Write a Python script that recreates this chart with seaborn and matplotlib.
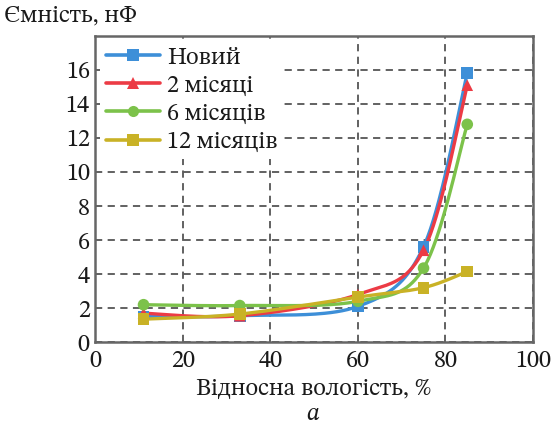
import numpy as np
import pandas as pd
import matplotlib
matplotlib.use("Agg")
import matplotlib.pyplot as plt
from matplotlib import font_manager
from matplotlib.font_manager import FontProperties
import seaborn as sns
from matplotlib.lines import Line2D

# ---- data ----
humidity = [11, 33, 60, 75, 85]
series_names = ["Новий", "2 місяці", "6 місяців", "12 місяців"]
new_vals = [1.5, 1.55, 2.1, 5.6, 15.8]
m2_vals = [1.7, 1.55, 2.8, 5.4, 15.1]
m6_vals = [2.2, 2.15, 2.4, 4.35, 12.8]
m12_vals = [1.35, 1.65, 2.65, 3.2, 4.15]
x_ticks = [0, 20, 40, 60, 80, 100]
y_ticks = [0, 2, 4, 6, 8, 10, 12, 14, 16]

colors = ["#3d8fd8", "#ec3b45", "#7cc24a", "#c9b226"]
markers = ["s", "^", "o", "s"]

sns.set_theme(style="white")
plt.rcParams["font.family"] = ["PT Serif", "DejaVu Serif"]
plt.rcParams["mathtext.fontset"] = "stix"

# preferred serif faces with Cyrillic, with the size that matches the reference
CANDIDATES = [("STIX Two Text", 17.5), ("PT Serif", 16.5), ("Noto Serif", 16.0)]


def find_fp(italic=False):
    for fam, size in CANDIDATES:
        try:
            path = font_manager.findfont(FontProperties(family=fam,
                                                        style="italic" if italic else "normal"),
                                         fallback_to_default=False)
            return FontProperties(fname=path, size=size)
        except Exception:
            continue
    return FontProperties(family="serif", style="italic" if italic else "normal", size=16.5)


fp = find_fp()
fp_it = find_fp(italic=True)


def smooth(xs, ys, n=40):
    # Excel-like smoothed line (Catmull-Rom style Bezier)
    xs = np.asarray(xs, float)
    ys = np.asarray(ys, float)
    P = np.column_stack([xs, ys])
    out = []
    for i in range(len(P) - 1):
        p0 = P[i - 1] if i > 0 else P[i]
        p1 = P[i]
        p2 = P[i + 1]
        p3 = P[i + 2] if i + 2 < len(P) else P[i + 1]
        c1 = p1 + (p2 - p0) / 6.0
        c2 = p2 - (p3 - p1) / 6.0
        t = np.linspace(0, 1, n)[:, None]
        seg = ((1 - t) ** 3) * p1 + 3 * ((1 - t) ** 2) * t * c1 + 3 * (1 - t) * t ** 2 * c2 + t ** 3 * p2
        out.append(seg if i == 0 else seg[1:])
    S = np.vstack(out)
    return S[:, 0], S[:, 1]


fig = plt.figure(figsize=(5.58, 4.32), dpi=100)
ax = fig.add_axes([0.171, 0.208, 0.784, 0.709])

all_vals = [new_vals, m2_vals, m6_vals, m12_vals]
for name, vals, c, m in zip(series_names, all_vals, colors, markers):
    sx, sy = smooth(humidity, vals)
    curve = pd.DataFrame({"x": sx, "y": sy})
    sns.lineplot(data=curve, x="x", y="y", ax=ax, color=c, lw=2.4, sort=False,
                 estimator=None, zorder=3)
    pts = pd.DataFrame({"x": humidity, "y": vals})
    sns.scatterplot(data=pts, x="x", y="y", ax=ax, color=c, marker=m, s=70,
                    edgecolor="none", zorder=4)

ax.set_xlim(0, 100)
ax.set_ylim(0, 18)
ax.set_xticks(x_ticks)
ax.set_yticks(y_ticks)
ax.set_xticklabels([str(t) for t in x_ticks], fontproperties=fp)
ax.set_yticklabels([str(t) for t in y_ticks], fontproperties=fp)
ax.tick_params(axis="both", direction="in", length=4, width=1, color="#777777",
               labelcolor="#1a1a1a", pad=4)
ax.tick_params(axis="x", pad=6)
ax.grid(True, color="#555555", linestyle=(0, (4, 3)), lw=1.3)
for sp in ax.spines.values():
    sp.set_color("#666666")
    sp.set_linewidth(1.8)
ax.set_xlabel("Відносна вологість, %", fontproperties=fp, color="#1a1a1a", labelpad=4)
ax.set_ylabel("")

fig.text(0.008, 0.965, "Ємність, нФ", fontproperties=fp, color="#1a1a1a", ha="left", va="center")
fig.text(0.56, 0.042, "a", fontproperties=fp_it, color="#1a1a1a", ha="center", va="center")

handles = [Line2D([0], [0], color=c, lw=2.6, marker=m, markersize=8, markeredgewidth=0)
           for c, m in zip(colors, markers)]
leg = ax.legend(handles, series_names, loc="upper left", bbox_to_anchor=(0.0, 1.0),
                prop=fp, frameon=True, fancybox=False, edgecolor="none",
                facecolor="white", framealpha=1.0, handlelength=2.2, handletextpad=0.3,
                labelspacing=0.25, borderpad=0.25, borderaxespad=0.2)
for t in leg.get_texts():
    t.set_color("#1a1a1a")
leg.set_zorder(5)

fig.savefig("out.png", dpi=100, facecolor="white")
